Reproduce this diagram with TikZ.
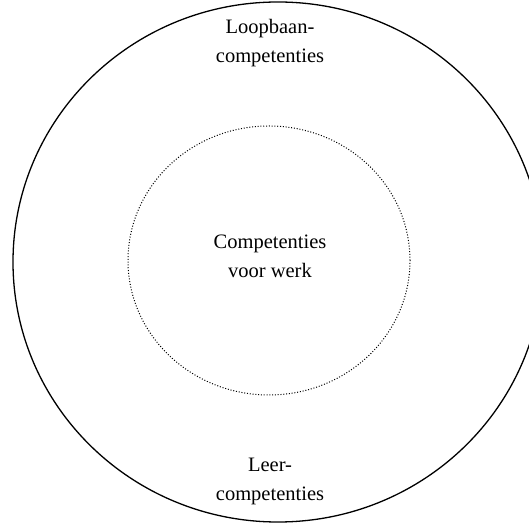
\documentclass[tikz,border=0pt]{standalone}
\usepackage{fontspec}
\setmainfont{Liberation Serif}
\usetikzlibrary{shapes.geometric}
\begin{document}
\begin{tikzpicture}[x=1pt,y=1pt,
  lbl/.style={align=center,font=\fontsize{20.5}{29}\selectfont,inner sep=0pt},
  outerring/.style={draw=black,line width=1.3pt},
  innerring/.style={draw=black,line width=1pt,dash pattern=on 1pt off 1.8pt}]
\useasboundingbox (0,0) rectangle (529,524);
% outer ring and dotted inner ring
\node[outerring,ellipse,minimum width=530,minimum height=520,inner sep=0pt] (outer) at (278,262) {};
\node[innerring,ellipse,minimum width=282,minimum height=269,inner sep=0pt] (inner) at (269,263.5) {};
% labels
\node[lbl] (career) at (270,481.3) {Loopbaan-\\competenties};
\node[lbl] (work) at (270,267.5) {Competenties\\voor werk};
\node[lbl] (learn) at (270,42.3) {Leer-\\competenties};
\end{tikzpicture}
\end{document}
